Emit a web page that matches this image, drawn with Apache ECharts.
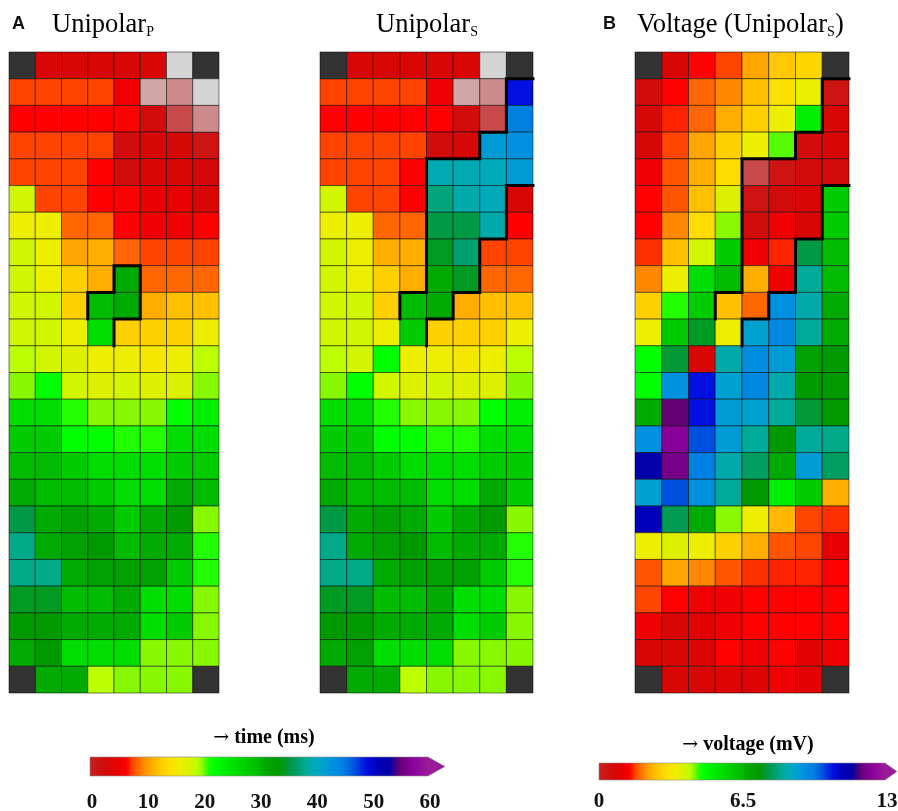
<!DOCTYPE html>
<html><head><meta charset="utf-8">
<script src="https://cdn.jsdelivr.net/npm/echarts@6/dist/echarts.min.js"></script>
<style>html,body{margin:0;padding:0;background:#fff}#c{width:898px;height:811px}</style>
</head><body><div id="c"></div>
<script>
// ---------- DATA ----------
// activation time (ms), Unipolar_P ; 'X' = no electrode, 'G','L','P','D' = masked cells
const timeA = [
 ['X',3.5,3.5,3.5,3.5,3.5,'G','X'],
 [7.5,7.5,7.5,7.5,5.5,'L','P','G'],
 [6.5,6.5,6.5,6.5,6.5,2.5,'D','P'],
 [7.5,7.5,7.5,7.5,2.5,3.2,3.2,1.5],
 [7.5,7.5,7.5,6.5,2.5,3.5,3.5,3.2],
 [18,7.5,7.5,6.5,6.5,5,5,3.5],
 [16,16,8.5,8.5,6.5,5.5,5.5,6.5],
 [18,16,10.5,11,8.5,7.5,7.5,7.5],
 [18,16,13,11,31,8.5,8.5,8.5],
 [18,18,13,30,31,11,12,12],
 [18,18,16,26,13,13,13,16],
 [19,18,17.5,16,16,15,16,19],
 [20,22,18,17.5,18,17.5,17.5,20],
 [26,26,21,20,20,20,22,24],
 [28,28,22,22,21,21,26,26],
 [30,30,28,26,26,26,28,28],
 [31,30,30,28,26,26,31,30],
 [35.5,31,32.5,31,28,31,33.5,20],
 [38,31,32.5,33.5,30,31,31,21],
 [38,38,31,32.5,32.5,32.5,28,21],
 [34.5,34.5,30,30,31,26,26,20],
 [33.5,33.5,31,31,31,26,28,20],
 [31,33.5,26,26,26,20,20,20],
 ['X',31,31,19,20,20,20,'X']
];
// activation time (ms), Unipolar_S
const timeB = [
 ['X',3.5,3.5,3.5,3.5,3.5,'G','X'],
 [7.5,7.5,7.5,7.5,5.5,'L','P',49],
 [6.5,6.5,6.5,6.5,6.5,2.5,'D',45],
 [7.5,7.5,7.5,7.5,2.5,3.2,42,43],
 [7.5,7.5,7.5,6.5,39.5,39.5,40,42],
 [18,7.5,7.5,6.5,37.5,39,40,3.5],
 [16,16,8.5,8.5,35.5,35.5,39,6.5],
 [18,16,11,11,34.5,37,7.5,7.5],
 [18,16,13,11,31,34.5,8.5,8.5],
 [18,18,13,30,31,11,12,12],
 [18,18,16,28,13,13,13,16],
 [19,18,22,16,16,15,16,19],
 [20,22,18,17.5,18,17.5,17.5,20],
 [26,26,21,20,20,20,22,24],
 [28,28,22,22,21,21,26,26],
 [30,30,28,26,26,26,28,28],
 [31,30,30,30,26,26,31,28],
 [35.5,31,32.5,31,28,31,33.5,20],
 [38,31,32.5,33.5,30,31,31,21],
 [38,38,31,32.5,32.5,32.5,28,21],
 [34.5,34.5,30,30,31,26,26,20],
 [33.5,33.5,31,31,31,26,28,20],
 [31,32.5,26,26,26,20,20,20],
 ['X',31,31,19,20,20,20,'X']
];
// voltage (mV), Unipolar_S
const voltage = [
 ['X',0.76,1.41,1.63,2.28,2.71,2.93,'X'],
 [0.54,1.41,1.84,2.06,2.6,3.14,3.58,0.33],
 [0.69,1.52,1.84,2.38,2.82,3.47,5.2,0.76],
 [0.69,1.63,2.28,2.82,3.47,4.44,0.54,0.76],
 [1.19,1.73,2.38,3.03,'D',0.33,0.6,0.54],
 [1.41,1.73,2.6,3.79,0.33,0.6,0.76,6.07],
 [1.41,2.06,3.03,4.33,0.54,1.19,0.76,6.07],
 [1.56,2.6,3.9,6.07,1.19,1.52,7.69,6.5],
 [2.06,3.47,5.63,6.5,2.38,1.19,8.34,6.5],
 [2.82,4.55,6.07,2.6,1.84,9.32,8.45,6.72],
 [3.47,6.07,7.48,3.47,8.99,9.53,8.34,6.72],
 [4.77,7.58,0.76,8.45,9.4,9.1,7.04,7.26],
 [4.77,9.32,10.62,8.99,9.53,8.45,7.26,7.26],
 [6.72,11.92,10.62,9.1,8.99,8.34,7.58,7.26],
 [9.32,12.35,10.18,9.1,8.34,7.26,8.34,8.23],
 [11.48,12.13,9.75,8.45,7.91,6.72,9.1,7.91],
 [8.99,10.18,9.32,8.34,7.26,5.2,6.07,2.38],
 [11.05,7.8,6.72,4.33,3.47,2.49,1.63,1.56],
 [3.47,3.79,3.47,2.82,2.38,1.73,1.63,1.08],
 [1.73,2.28,2.06,1.73,1.56,1.52,1.52,1.41],
 [1.63,1.41,1.19,1.19,1.41,1.41,1.41,1.41],
 [1.19,0.76,0.98,1.19,1.41,1.41,1.41,1.41],
 [0.76,0.76,0.87,1.41,1.19,1.41,0.98,1.19],
 ['X',0.76,0.76,0.87,0.87,1.19,0.98,'X']
];
// block lines, vertices on the electrode lattice [col edge, row edge]
const linesA = [
 [[3,10],[3,9],[4,9],[4,8],[5,8],[5,10],[4,10],[4,11]]
];
const linesB = [
 [[3,10],[3,9],[4,9],[4,4],[6,4],[6,3],[7,3],[7,1],[8,1]],
 [[4,11],[4,10],[5,10],[5,9],[6,9],[6,7],[7,7],[7,5],[8,5]]
];
const linesC = [
 [[3,10],[3,9],[4,9],[4,4],[6,4],[6,3],[7,3],[7,1],[8,1]],
 [[4,11],[4,10],[5,10],[5,9],[6,9],[6,7],[7,7],[7,5],[8,5]]
];
const timeTicks = [0,10,20,30,40,50,60];
const voltTicks = [0,6.5,13];
const timeMax = 60, voltMax = 13;

// ---------- STYLE ----------
const maskCodes = ['X','G','L','P','D'];
const maskColors = ['#333333','#d4d4d4','#d0a6a6','#cc8a8a','#c84a4a'];
const cmapStops = [[0,'#c81e1e'],[3,'#d40808'],[5,'#e80000'],[6.5,'#ff0000'],[7.5,'#ff4400'],[8.5,'#ff6600'],[9.5,'#ff8800'],[10.5,'#ffa500'],[12,'#ffc000'],[13,'#ffd000'],[14,'#ffdd00'],[16,'#eeee00'],[17.5,'#ddf000'],[19,'#bbff00'],[20,'#88f800'],[21,'#22ff00'],[22,'#00ff00'],[24,'#00ee00'],[26,'#00dd00'],[28,'#00cc00'],[30,'#00bb00'],[31,'#00aa00'],[32.5,'#00a000'],[33.5,'#009900'],[34.5,'#009922'],[35.5,'#009944'],[37,'#00a070'],[38,'#00aa88'],[39,'#00aaaa'],[40,'#00aabb'],[41.5,'#00a0d0'],[43,'#0090e0'],[45,'#0080e0'],[47,'#0050e0'],[49,'#0010e0'],[51,'#0000bb'],[53,'#0000aa'],[55,'#660077'],[57,'#880099'],[60,'#9a1a9a']];
function hexToRgb(h){return [parseInt(h.slice(1,3),16),parseInt(h.slice(3,5),16),parseInt(h.slice(5,7),16)];}
function colorAt(t){
  for(let i=0;i<cmapStops.length-1;i++){
    const [t0,c0]=cmapStops[i],[t1,c1]=cmapStops[i+1];
    if(t<=t1){const f=(t-t0)/(t1-t0);const a=hexToRgb(c0),b=hexToRgb(c1);
      return 'rgb('+a.map((x,k)=>Math.round(x+(b[k]-x)*f)).join(',')+')';}
  }
  return cmapStops[cmapStops.length-1][1];
}
const palette=[]; for(let i=0;i<=240;i++) palette.push(colorAt(i*0.25));

function split(grid){
  const cells=[],masks=[];
  grid.forEach((row,r)=>row.forEach((v,c)=>{
    if(typeof v==='number') cells.push([c,r,v]); else masks.push([c,r,maskCodes.indexOf(v)]);
  }));
  return {cells,masks};
}
const dA=split(timeA), dB=split(timeB), dC=split(voltage);

function cellRender(params, api){
  const c=api.value(0), r=api.value(1);
  const p0=api.coord([c,r]), p1=api.coord([c+1,r+1]);
  return {type:'rect',
    shape:{x:Math.min(p0[0],p1[0]),y:Math.min(p0[1],p1[1]),width:Math.abs(p1[0]-p0[0]),height:Math.abs(p1[1]-p0[1])},
    style:{fill:api.visual('color'),stroke:'rgba(0,0,0,0.5)',lineWidth:1}};
}
const gridPos=[{left:9,width:210},{left:320,width:213},{left:635,width:214}];
const grids=gridPos.map(g=>({left:g.left,width:g.width,top:52,height:641}));
const xAxes=gridPos.map((g,i)=>({type:'value',gridIndex:i,min:0,max:8,show:false}));
const yAxes=gridPos.map((g,i)=>({type:'value',gridIndex:i,min:0,max:24,inverse:true,show:false}));

const series=[];
[dA,dB,dC].forEach((d,i)=>{
  series.push({type:'custom',xAxisIndex:i,yAxisIndex:i,renderItem:cellRender,data:d.cells,encode:{x:0,y:1},silent:true,z:2});
});
[dA,dB,dC].forEach((d,i)=>{
  series.push({type:'custom',xAxisIndex:i,yAxisIndex:i,renderItem:cellRender,data:d.masks,encode:{x:0,y:1},silent:true,z:2});
});
[linesA,linesB,linesC].forEach((ls,i)=>ls.forEach(l=>{
  series.push({type:'line',xAxisIndex:i,yAxisIndex:i,data:l,symbol:'none',silent:true,z:5,clip:true,
    lineStyle:{color:'#000',width:3,join:'miter',cap:'square'}});
}));

// colour bars
const gradStops=cmapStops.map(([t,c])=>({offset:t/60,color:c}));
function bar(x0,x1,tip,y0,y1){
  return {type:'polygon',silent:true,z:10,
    shape:{points:[[x0,y0],[x1,y0],[tip,(y0+y1)/2],[x1,y1],[x0,y1]]},
    style:{fill:{type:'linear',x:x0,y:0,x2:x1,y2:0,global:true,colorStops:gradStops},stroke:'#8a8a8a',lineWidth:0.6}};
}
function txt(x,y,text,font,align,va){
  return {type:'text',silent:true,z:10,x:x,y:y,style:{text:text,font:font,fill:'#111',align:align||'left',verticalAlign:va||'middle',textAlign:align||'left',textVerticalAlign:va||'middle'}};
}
const serifB='bold 21px "Liberation Serif", "Times New Roman", serif';
const legRich={
  ar:{fontFamily:'"DejaVu Serif",serif',fontSize:19,color:'#111'},
  t:{fontFamily:'"Liberation Serif",serif',fontSize:20,fontWeight:'bold',color:'#111'}
};
function legTitle(x,y,label){
  return {type:'text',silent:true,z:10,x:x,y:y,style:{text:'{ar|\u2192}{t| '+label+'}',rich:legRich,align:'center',verticalAlign:'middle',textAlign:'center',textVerticalAlign:'middle'}};
}
const graphic=[
  bar(90,428,445,757,776),
  bar(599,885,897,763,780),
  legTitle(264,738,'time (ms)'),
  legTitle(748,745,'voltage (mV)'),
  txt(12,24,'A','bold 18px "Liberation Sans", Arial, sans-serif','left'),
  txt(603,24,'B','bold 18px "Liberation Sans", Arial, sans-serif','left')
];
timeTicks.forEach(t=>graphic.push(txt(92+t/timeMax*338,803,String(t),serifB,'center')));
voltTicks.forEach(v=>graphic.push(txt(599+v/voltMax*288,802,String(v),serifB,'center')));
const rich={
  m:{fontFamily:'"Liberation Serif","Times New Roman",serif',fontSize:26.5,lineHeight:30,verticalAlign:'bottom',color:'#1a1a1a'},
  s:{fontFamily:'"Liberation Serif","Times New Roman",serif',fontSize:14,lineHeight:18,verticalAlign:'bottom',color:'#1a1a1a'}
};
function title(x,text){
  return {type:'text',silent:true,z:10,x:x,y:9,style:{text:text,rich:rich,align:'left',verticalAlign:'top',textAlign:'left',textVerticalAlign:'top'}};
}
graphic.push(title(52,'{m|Unipolar}{s|P}'));
graphic.push(title(376,'{m|Unipolar}{s|S}'));
graphic.push(title(637,'{m|Voltage (Unipolar}{s|S}{m|)}'));

const chart=echarts.init(document.getElementById('c'),null,{renderer:'canvas'});
chart.setOption({
  animation:false,
  backgroundColor:'#fff',
  grid:grids, xAxis:xAxes, yAxis:yAxes,
  visualMap:[
    {type:'continuous',show:false,min:0,max:timeMax,dimension:2,seriesIndex:[0,1],inRange:{color:palette}},
    {type:'continuous',show:false,min:0,max:voltMax,dimension:2,seriesIndex:[2],inRange:{color:palette}},
    {type:'piecewise',show:false,dimension:2,seriesIndex:[3,4,5],pieces:maskColors.map((c,i)=>({value:i,color:c}))}
  ],
  series:series,
  graphic:graphic
});
</script></body></html>
